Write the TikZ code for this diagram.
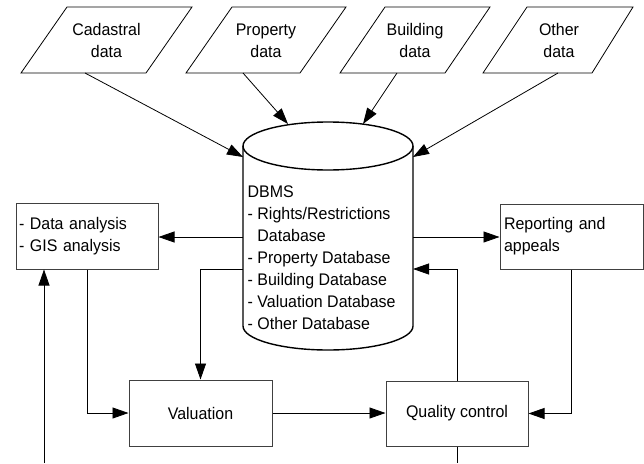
\documentclass[tikz,border=0pt]{standalone}
\usepackage{fontspec}
\setmainfont{Liberation Sans}[FakeStretch=0.95]
\usetikzlibrary{arrows.meta}
\begin{document}
\begin{tikzpicture}[x=1pt,y=-1pt,
  every node/.style={font=\fontsize{16.8}{22}\selectfont, inner sep=0pt},
  flow/.style={draw=black, line width=0.8pt, -{Triangle[length=16pt,width=11pt]}},
  link/.style={draw=black, line width=0.8pt},
  box/.style={draw=black!75, line width=1pt, rectangle},
  inputshape/.style={draw=black, line width=0.8pt, line join=miter},
  dbline/.style={draw=black, line width=1.4pt}]
\useasboundingbox (0,0) rectangle (644,463);

% input data (parallelograms)
\draw[inputshape] (67,7) -- (192,7) -- (146,73) -- (21,73) -- cycle;
\node[align=center] (cad) at (106.5,40.5) {Cadastral\\data};
\draw[inputshape] (232,7) -- (346,7) -- (300,73) -- (186,73) -- cycle;
\node[align=center] (prop) at (266,40.5) {Property\\data};
\draw[inputshape] (385,7) -- (490,7) -- (445,73) -- (340,73) -- cycle;
\node[align=center] (bld) at (415,40.5) {Building\\data};
\draw[inputshape] (527,7) -- (633,7) -- (592,73) -- (483,73) -- cycle;
\node[align=center] (oth) at (559,40.5) {Other\\data};

\coordinate (cadB) at (85,73);
\coordinate (propB) at (243,73);
\coordinate (bldB) at (397,73);
\coordinate (othB) at (558,73);

% database cylinder
\draw[dbline] (243,146) -- (243,326) arc[start angle=180, end angle=360, x radius=85, y radius=-24] -- (413,146);
\draw[dbline] (328,146) ellipse[x radius=85, y radius=24];
\node[align=left, anchor=north west] (dbms) at (247.5,185.5)
  {DBMS\\- Rights/Restrictions\\\hphantom{- }Database\\- Property Database\\- Building Database\\- Valuation Database\\- Other Database};

\coordinate (dbIn1) at (243,157);
\coordinate (dbIn2) at (288,124);
\coordinate (dbIn3) at (363,124);
\coordinate (dbIn4) at (413,157);
\coordinate (dbW1) at (243,237);
\coordinate (dbW2) at (243,269);
\coordinate (dbE1) at (413,237);
\coordinate (dbE2) at (413,269);

% process boxes
\node[box, minimum width=142pt, minimum height=66pt, text width=136pt, align=left] (anal) at (87,236)
  {- Data analysis\\- GIS analysis};
\node[box, minimum width=143pt, minimum height=65pt, text width=135pt, align=left] (rep) at (571.5,236.5)
  {Reporting and\\appeals};
\node[box, minimum width=143pt, minimum height=66pt] (val) at (200.5,413) {Valuation};
\node[box, minimum width=142pt, minimum height=65pt] (qc) at (457,413.5) {Quality control};

\coordinate (inA) at (44,463);
\coordinate (outQ) at (457,463);

% connectors
\draw[flow] (cadB) -- (dbIn1);
\draw[flow] (propB) -- (dbIn2);
\draw[flow] (bldB) -- (dbIn3);
\draw[flow] (othB) -- (dbIn4);

\draw[flow] (dbW1) -- (dbW1 -| anal.east);
\draw[flow] (dbE1) -- (dbE1 -| rep.west);
\draw[flow] (dbW2) -| (val.north);
\draw[flow] (anal.south) |- (val.west);
\draw[flow] (inA) -- (inA |- anal.south);
\draw[flow] (val.east) -- (val.east -| qc.west);
\draw[flow] (qc.north) |- (dbE2);
\draw[flow] (rep.south) |- (qc.east);
\draw[link] (qc.south) -- (outQ);
\end{tikzpicture}
\end{document}
